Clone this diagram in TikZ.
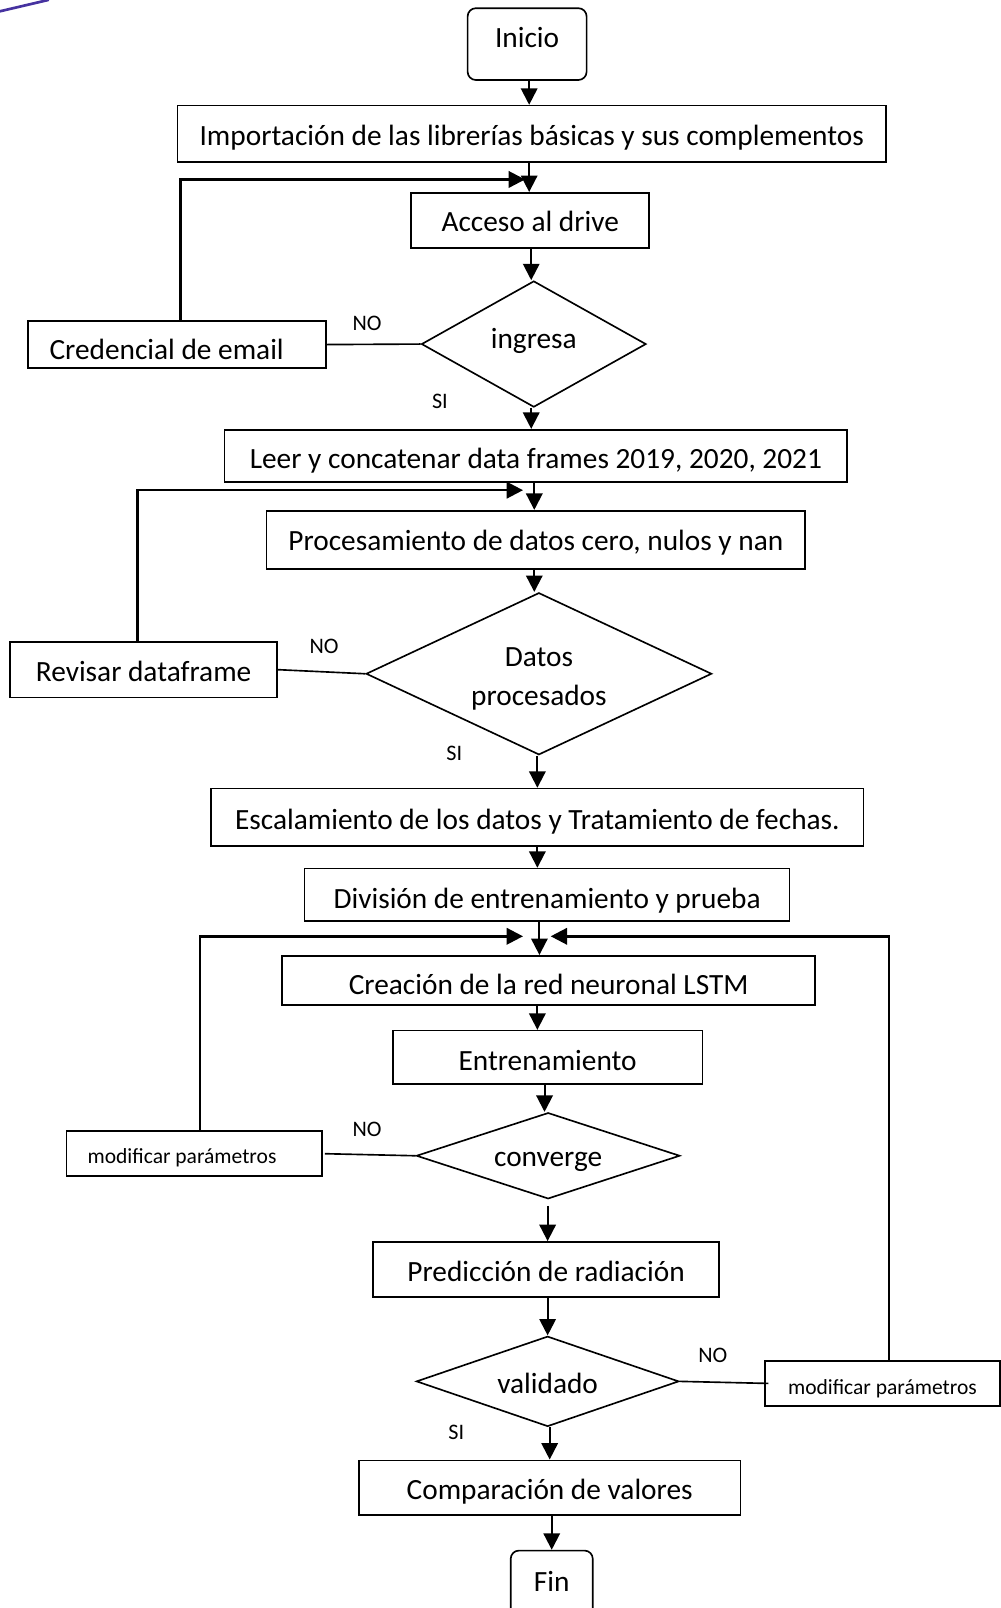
\documentclass[tikz,border=0pt]{standalone}
\usepackage{fontspec}
\setmainfont{Carlito}
\usetikzlibrary{arrows.meta,shapes.geometric}
\definecolor{penstroke}{RGB}{70,50,160}
% move a text line up or down without changing the size the node sees
\newcommand\vmove[2]{\raisebox{#1}[\height][\depth]{#2}}
\begin{document}
\begin{tikzpicture}[x=0.5pt,y=-0.5pt,
  box/.style={draw, line width=0.8pt, inner sep=0pt, font=\fontsize{14.3}{17}\selectfont},
  term/.style={box, rounded corners=4pt},
  dec/.style={diamond, draw, line width=0.8pt, inner sep=0pt, font=\fontsize{14.3}{17}\selectfont},
  smallbox/.style={box, font=\fontsize{10.5}{12}\selectfont},
  lbl/.style={inner sep=0pt, font=\fontsize{10.8}{12}\selectfont},
  arr/.style={line width=1pt, -{Triangle[length=8pt,width=8pt]}},
  ln/.style={line width=0.8pt},
  fb/.style={line width=1.2pt, -{Triangle[length=8pt,width=8pt]}}
]
\useasboundingbox (0,0) rectangle (976,1568);
\clip (0,0) rectangle (976,1568);

% pen stroke in the upper left corner
\draw[line width=1.3pt, penstroke, line cap=round] (0,11) -- (47,0);

% main column
\node[term, minimum width=58pt, minimum height=35pt] (inicio) at (514,43) {\vmove{3pt}{Inicio}};
\node[box, minimum width=345.5pt, minimum height=27.5pt] (imp) at (518.5,130.5) {\vmove{-2pt}{Importación de las librerías básicas y sus complementos}};
\node[box, minimum width=116pt, minimum height=27pt] (acceso) at (517,215) {\vmove{-0.5pt}{Acceso al drive}};
\node[dec, aspect=1.78, minimum width=109.5pt, minimum height=61.5pt] (ing) at (520.5,335.5) {\vmove{1.75pt}{ingresa}};
\node[box, minimum width=145.5pt, minimum height=23pt] (cred) at (172.5,336) {\vmove{-2.5pt}{\hspace*{-10pt}Credencial de email}};
\node[box, minimum width=303.5pt, minimum height=25.5pt] (leer) at (522.5,444.5) {\vmove{-2.5pt}{Leer y concatenar data frames 2019, 2020, 2021}};
\node[box, minimum width=262.5pt, minimum height=28.5pt] (proc) at (522.5,526.5) {\vmove{-1.5pt}{Procesamiento de datos cero, nulos y nan}};
\node[dec, aspect=2.13, minimum width=168.5pt, minimum height=79pt, align=center, font=\fontsize{14.3}{19}\selectfont] (datos) at (525.5,657) {\vmove{-2.5pt}{Datos}\\\vmove{-2.5pt}{procesados}};
\node[box, minimum width=130pt, minimum height=27pt] (rev) at (140,653) {\vmove{-1pt}{Revisar dataframe}};
\node[box, minimum width=318pt, minimum height=28pt] (esc) at (524,797) {\vmove{-2pt}{Escalamiento de los datos y Tratamiento de fechas.}};
\node[box, minimum width=236.5pt, minimum height=25.5pt] (div) at (533.5,872.5) {\vmove{-3pt}{División de entrenamiento y prueba}};
\node[box, minimum width=260pt, minimum height=24pt] (crea) at (535,956) {\vmove{-2pt}{Creación de la red neuronal LSTM}};
\node[box, minimum width=151pt, minimum height=26pt] (entr) at (534,1031) {\vmove{-1.5pt}{Entrenamiento}};
\node[dec, aspect=3.06, minimum width=128.5pt, minimum height=42pt] (conv) at (534.5,1127) {\vmove{-3pt}{converge}};
\node[smallbox, minimum width=124.5pt, minimum height=22pt] (modL) at (189.5,1125) {\vmove{-2pt}{\hspace*{-12pt}modificar parámetros}};
\node[box, minimum width=168.5pt, minimum height=27pt] (pred) at (532.5,1238) {\vmove{-1pt}{Predicción de radiación}};
\node[dec, aspect=2.9, minimum width=128pt, minimum height=44pt] (val) at (534,1347) {\vmove{-1pt}{validado}};
\node[smallbox, minimum width=114.5pt, minimum height=22pt] (modR) at (860.5,1349) {\vmove{-2.5pt}{modificar parámetros}};
\node[box, minimum width=186pt, minimum height=26.5pt] (comp) at (536,1450.5) {\vmove{-2pt}{Comparación de valores}};
\node[term, minimum width=40pt, minimum height=33pt] (fin) at (538,1545) {\vmove{1.5pt}{Fin}};

% decision labels
\node[lbl] (no1) at (358,315) {NO};
\node[lbl] (si1) at (429,391) {SI};
\node[lbl] (no2) at (316,630) {NO};
\node[lbl] (si2) at (443,735) {SI};
\node[lbl] (no3) at (358,1101) {NO};
\node[lbl] (no4) at (695,1322) {NO};
\node[lbl] (si4) at (445,1397) {SI};

% forward flow
\draw[arr] (inicio.south -| 516,0) -- (imp.north -| 516,0);
\draw[arr] (imp.south -| 516,0) -- (acceso.north -| 516,0);
\draw[arr] (acceso.south -| 518,0) -- (ing.north -| 518,0);
\draw[arr] (ing.south -| 518,0) -- (leer.north -| 518,0);
\draw[arr] (leer.south -| 521,0) -- (proc.north -| 521,0);
\draw[arr] (proc.south -| 521,0) -- (datos.north -| 521,0);
\draw[arr] (datos.south -| 524,0) -- (esc.north -| 524,0);
\draw[arr] (esc.south -| 524,0) -- (div.north -| 524,0);
\draw[arr] (div.south -| 526,0) -- (crea.north -| 526,0);
\draw[arr] (crea.south -| 524,0) -- (entr.north -| 524,0);
\draw[arr] (entr.south -| 531,0) -- (conv.north -| 531,0);
\draw[arr] ([yshift=-3pt]conv.south -| 534,0) -- (pred.north -| 534,0);
\draw[arr] (pred.south -| 534,0) -- (val.north -| 534,0);
\draw[arr] (val.south -| 536,0) -- (comp.north -| 536,0);
\draw[arr] (comp.south -| 538,0) -- (fin.north -| 538,0);

% "NO" branches
\draw[ln] (ing.west) -- (cred.east);
\draw[ln] (datos.west) -- (rev.east);
\draw[ln] (conv.west) -- ([xshift=1pt]modL.east);
\draw[ln] (val.east) -- ([xshift=2pt]modR.west);

% loop-back connectors
\coordinate (t1) at (512,175);
\coordinate (t2) at (510,478);
\coordinate (t3) at (510,913);
\coordinate (t4) at (537,913);
\draw[fb] (cred.north -| 176,0) |- (t1);
\draw[fb] (rev.north -| 134,0) |- (t2);
\draw[fb] (modL.north -| 195,0) |- (t3);
\draw[fb] (modR.north -| 867,0) |- (t4);
\end{tikzpicture}
\end{document}
